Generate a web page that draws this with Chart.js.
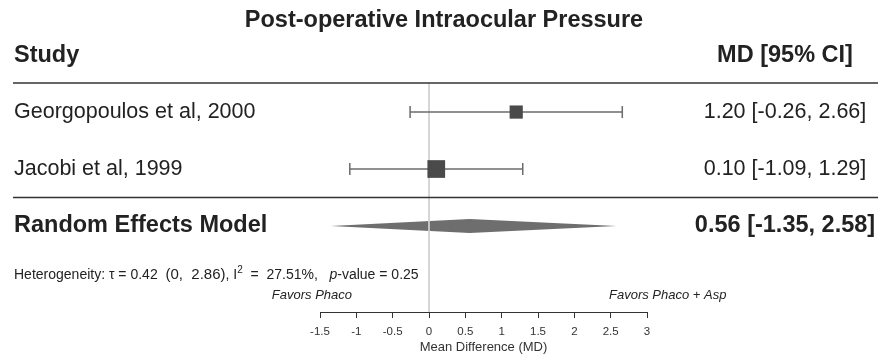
<!DOCTYPE html>
<html>
<head>
<meta charset="utf-8">
<script src="https://cdn.jsdelivr.net/npm/chart.js@4.4.0/dist/chart.umd.min.js"></script>
<style>
    html, body { margin: 0; padding: 0; background: #fff; }
    #wrap { width: 888px; height: 356px; }
</style>
</head>
<body>
<div id="wrap"><canvas id="forest" width="888" height="356"></canvas></div>
<script>
// DATOS
const studies = ["Georgopoulos et al, 2000", "Jacobi et al, 1999"];
const md = [1.20, 0.10];
const ciLow = [-0.26, -1.09];
const ciHigh = [2.66, 1.29];
const weights = [42.7, 57.3]; // % peso → tamaño del cuadrado

const modelLabel = "Random Effects Model";
const modelMd = 0.56;
const modelLow = -1.35;
const modelHigh = 2.58;

const xTicks = [-1.5, -1, -0.5, 0, 0.5, 1, 1.5, 2, 2.5, 3];

const tau = 0.42;
const tauCi = [0, 2.86];
const i2 = 27.51;
const pValue = 0.25;

// ESTILO
const FONT = "'Liberation Sans', Arial, Helvetica, sans-serif";
const TXT = "#222";
const COL_MD = 785;        // centro de la columna MD [95% CI]
const DIAMOND_H = 0.123;   // media altura del rombo (unidades de fila)
const MAX_SIDE = 17.7;     // lado del cuadrado mayor (px)
const Y_MIN = -0.51, Y_MAX = 3.51;

const fmt = v => v.toFixed(2);
const modelRow = studies.length;
const maxW = Math.max(...weights);

// Datasets
const cuadrados = {
    data: md.map((v, i) => ({ x: v, y: i })),
    pointStyle: "rect",
    pointRadius: weights.map(w => (MAX_SIDE * w / maxW) / Math.SQRT2),
    backgroundColor: "#4a4a4a",
    borderWidth: 0,
    order: 0
};

const intervalos = studies.map((s, i) => ({
    data: [{ x: ciLow[i], y: i }, { x: ciHigh[i], y: i }],
    showLine: true,
    borderColor: "#6b6b6b",
    borderWidth: 1.5,
    pointStyle: "line",
    rotation: 90,
    pointRadius: 6,
    pointBorderColor: "#6b6b6b",
    pointBorderWidth: 1.5,
    order: 1
}));

const refLine = {
    data: [{ x: 0, y: Y_MIN }, { x: 0, y: Y_MAX }],
    showLine: true,
    borderColor: "#d0d0d0",
    borderWidth: 1,
    pointRadius: 0,
    order: 2
};

const rombo = {
    data: [
        { x: modelLow, y: modelRow },
        { x: modelMd, y: modelRow - DIAMOND_H },
        { x: modelHigh, y: modelRow },
        { x: modelMd, y: modelRow + DIAMOND_H },
        { x: modelLow, y: modelRow }
    ],
    showLine: true,
    fill: "shape",
    backgroundColor: "#6e6e6e",
    borderColor: "rgba(0,0,0,0)",
    borderWidth: 0,
    pointRadius: 0,
    order: 3
};

// Textos de la tabla
const textoForest = {
    id: "textoForest",
    afterDraw(chart) {
        const { ctx, chartArea, scales: { y } } = chart;
        ctx.save();
        ctx.textBaseline = "middle";
        ctx.fillStyle = TXT;

        // Encabezados
        const yHead = y.getPixelForValue(-1);
        ctx.font = "bold 23.5px " + FONT;
        ctx.textAlign = "left";
        ctx.fillText("Study", 14, yHead);
        ctx.textAlign = "center";
        ctx.fillText("MD [95% CI]", COL_MD, yHead);

        // Líneas horizontales
        ctx.strokeStyle = "#333";
        ctx.lineWidth = 1.3;
        [chartArea.top, y.getPixelForValue(modelRow - 0.5)].forEach(py => {
            ctx.beginPath();
            ctx.moveTo(13, py);
            ctx.lineTo(878, py);
            ctx.stroke();
        });

        // Filas de estudios
        ctx.font = "21.5px " + FONT;
        studies.forEach((s, i) => {
            const py = y.getPixelForValue(i);
            ctx.textAlign = "left";
            ctx.fillText(s, 14, py);
            ctx.textAlign = "center";
            ctx.fillText(`${fmt(md[i])} [${fmt(ciLow[i])}, ${fmt(ciHigh[i])}]`, COL_MD, py);
        });

        // Modelo
        const pyM = y.getPixelForValue(modelRow);
        ctx.font = "bold 23.5px " + FONT;
        ctx.textAlign = "left";
        ctx.fillText(modelLabel, 14, pyM);
        ctx.textAlign = "center";
        ctx.fillText(`${fmt(modelMd)} [${fmt(modelLow)}, ${fmt(modelHigh)}]`, COL_MD, pyM);

        // Heterogeneidad
        const hy = chartArea.top + 192;
        let cx = 14;
        ctx.textAlign = "left";
        const seg = (t, f, dy = 0) => {
            ctx.font = f;
            ctx.fillText(t, cx, hy + dy);
            cx += ctx.measureText(t).width;
        };
        const f14 = "14px " + FONT;
        seg(`Heterogeneity: τ = ${fmt(tau)}  `, f14);
        seg(`(${tauCi[0]},  ${fmt(tauCi[1])})`, "15px " + FONT);
        seg(", I", f14);
        seg("2", "10px " + FONT, -5);
        seg(`  =  ${i2}%,   `, f14);
        seg("p", "italic 14px " + FONT);
        seg(`-value = ${pValue}`, f14);

        // Favors
        const fy = chartArea.top + 212;
        ctx.font = "italic 13px " + FONT;
        ctx.textAlign = "right";
        ctx.fillText("Favors Phaco", 352, fy);
        ctx.textAlign = "left";
        ctx.fillText("Favors Phaco + Asp", 609, fy);

        ctx.restore();
    }
};

// ejes verticales invisibles: sólo reservan el espacio de las columnas de texto
const ejeOculto = (pos, ancho) => ({
    type: "linear",
    position: pos,
    reverse: true,
    min: Y_MIN,
    max: Y_MAX,
    ticks: { display: false },
    grid: { display: false },
    border: { display: false },
    afterFit: axis => { axis.width = ancho; }
});

new Chart(document.getElementById("forest"), {
    type: "scatter",
    data: { datasets: [cuadrados, ...intervalos, refLine, rombo] },
    options: {
        responsive: false,
        animation: false,
        events: [],
        layout: { padding: 0 },
        plugins: {
            legend: { display: false },
            tooltip: { enabled: false },
            title: {
                display: true,
                text: "Post-operative Intraocular Pressure",
                color: TXT,
                font: { family: FONT, size: 23.5, weight: "bold" },
                padding: { top: 6.4, bottom: 48.4 }
            }
        },
        scales: {
            x: {
                type: "linear",
                min: xTicks[0],
                max: xTicks[xTicks.length - 1],
                afterBuildTicks: axis => { axis.ticks = xTicks.map(v => ({ value: v })); },
                afterFit: axis => { axis.height = 44; },
                grid: { drawOnChartArea: false, tickLength: 6, color: "#333" },
                border: { display: true, color: "#333", width: 1 },
                ticks: {
                    color: "#333",
                    padding: 7,
                    font: { family: FONT, size: 11.5 },
                    callback: v => String(v)
                },
                title: {
                    display: true,
                    text: "Mean Difference (MD)",
                    color: "#333",
                    font: { family: FONT, size: 13 },
                    padding: { top: 0, bottom: 1 }
                }
            },
            y: ejeOculto("left", 320),
            yDer: ejeOculto("right", 241)
        }
    },
    plugins: [textoForest]
});
</script>
</body>
</html>
